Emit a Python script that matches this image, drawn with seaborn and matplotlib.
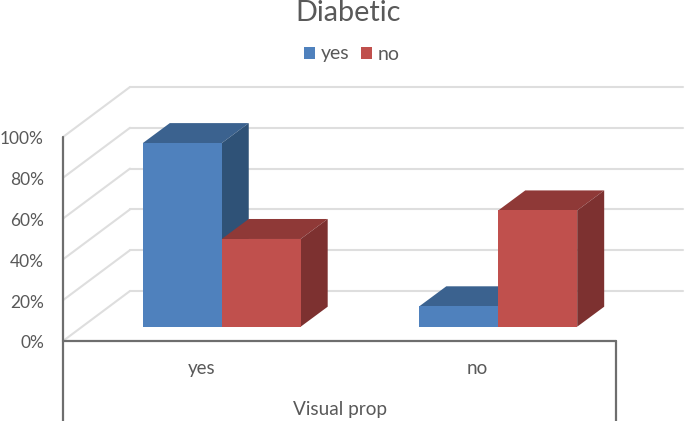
import pandas as pd
import matplotlib
matplotlib.use("Agg")
import matplotlib.pyplot as plt
import seaborn as sns
from matplotlib.patches import Polygon
from matplotlib.transforms import ScaledTranslation

# values
categories = ["yes", "no"]
series = ["yes", "no"]
yes_values = [90, 10]
no_values = [43, 57]
y_ticks = [0, 20, 40, 60, 80, 100]
y_labels = ["0%", "20%", "40%", "60%", "80%", "100%"]

front_colors = {"yes": "#4f81bd", "no": "#c0504d"}
top_colors = {"yes": "#3b628f", "no": "#8f3937"}
side_colors = {"yes": "#2f5277", "no": "#7d3130"}
text_color = "#595959"
axis_color = "#6e6e6e"
grid_color = "#dedede"

df = pd.DataFrame({
    "category": categories * 2,
    "series": ["yes"] * 2 + ["no"] * 2,
    "value": yes_values + no_values,
})

sns.set_theme(style="white")
plt.rcParams["font.family"] = ["Lato", "DejaVu Sans"]

W, H = 685, 421
fig = plt.figure(figsize=(W / 100, H / 100), dpi=100)
ax = fig.add_axes([63 / W, (H - 341) / H, 553 / W, 204 / H])

# 3d offsets in data units
px_x = 2 / 553
px_y = 100 / 204
wall_dx, wall_dy = 67 * px_x, 50 * px_y
bar_dx, bar_dy = 27 * px_x, 20 * px_y
base_dx, base_dy = 20.5 * px_x, 14.3 * px_y

sns.barplot(data=df, x="category", y="value", hue="series", order=categories, hue_order=series,
            palette=front_colors, width=0.571, gap=0, dodge=True, bottom=base_dy,
            legend=False, ax=ax, linewidth=0, saturation=1)
ax.set_xlim(-0.5, 1.5)
ax.set_ylim(0, 100)

# move the bars back on the floor and add the top and side faces
for i, (name, bars) in enumerate(zip(series, ax.containers)):
    for bar in bars:
        bar.set_x(bar.get_x() + base_dx)
        bar.set_zorder(3 + 2 * i)
        bar.set_clip_on(False)
        x0, x1 = bar.get_x(), bar.get_x() + bar.get_width()
        y0, y1 = bar.get_y(), bar.get_y() + bar.get_height()
        top = [(x0, y1), (x1, y1), (x1 + bar_dx, y1 + bar_dy), (x0 + bar_dx, y1 + bar_dy)]
        side = [(x1, y0), (x1 + bar_dx, y0 + bar_dy), (x1 + bar_dx, y1 + bar_dy), (x1, y1)]
        ax.add_patch(Polygon(top, color=top_colors[name], lw=0, zorder=2 + 2 * i, clip_on=False))
        ax.add_patch(Polygon(side, color=side_colors[name], lw=0, zorder=2 + 2 * i, clip_on=False))

# back wall gridlines and the diagonals on the left wall
for t in y_ticks:
    ax.plot([-0.5 + wall_dx, 1.5 + wall_dx], [t + wall_dy, t + wall_dy], color=grid_color, lw=1.5, zorder=1, clip_on=False)
    ax.plot([-0.5, -0.5 + wall_dx], [t, t + wall_dy], color=grid_color, lw=1.5, zorder=1, clip_on=False)

for s in ax.spines.values():
    s.set_visible(False)

# axis lines, the two outer ones run down past the category labels
drop = -80 * px_y
ax.plot([-0.5, 1.5], [0, 0], color=axis_color, lw=1.6, zorder=8, clip_on=False)
ax.plot([-0.5, -0.5], [drop, 100], color=axis_color, lw=1.6, zorder=8, clip_on=False)
ax.plot([1.5, 1.5], [drop, 0], color=axis_color, lw=1.6, zorder=8, clip_on=False)

ax.set_yticks(y_ticks)
ax.set_yticklabels(y_labels, fontsize=12.5, color=text_color)
ax.set_xticks(range(len(categories)))
ax.set_xticklabels(categories, fontsize=13.5, color=text_color)
ax.tick_params(axis="y", length=0, pad=13.7)
ax.tick_params(axis="x", length=0, pad=14)
ax.set_xlabel("")
ax.set_ylabel("")

# y labels sit a little under their gridline in the reference
nudge = ScaledTranslation(0, -1 / 100, fig.dpi_scale_trans)
for label in ax.get_yticklabels():
    label.set_transform(label.get_transform() + nudge)

fig.text(340 / W, (H - 409) / H, "Visual prop", ha="center", va="center", fontsize=13.7, color=text_color)
fig.text(348 / W, (H - 13) / H, "Diabetic", ha="center", va="center", fontsize=20.8, color=text_color)

handles = [bars[0] for bars in ax.containers]
fig.legend(handles, series, loc="center", bbox_to_anchor=(352 / W, (H - 54) / H), ncol=2, frameon=False,
           fontsize=14, labelcolor=text_color, handlelength=0.57, handleheight=0.57,
           handletextpad=0.31, columnspacing=0.57, borderpad=0)

fig.savefig("out.png", dpi=100)
